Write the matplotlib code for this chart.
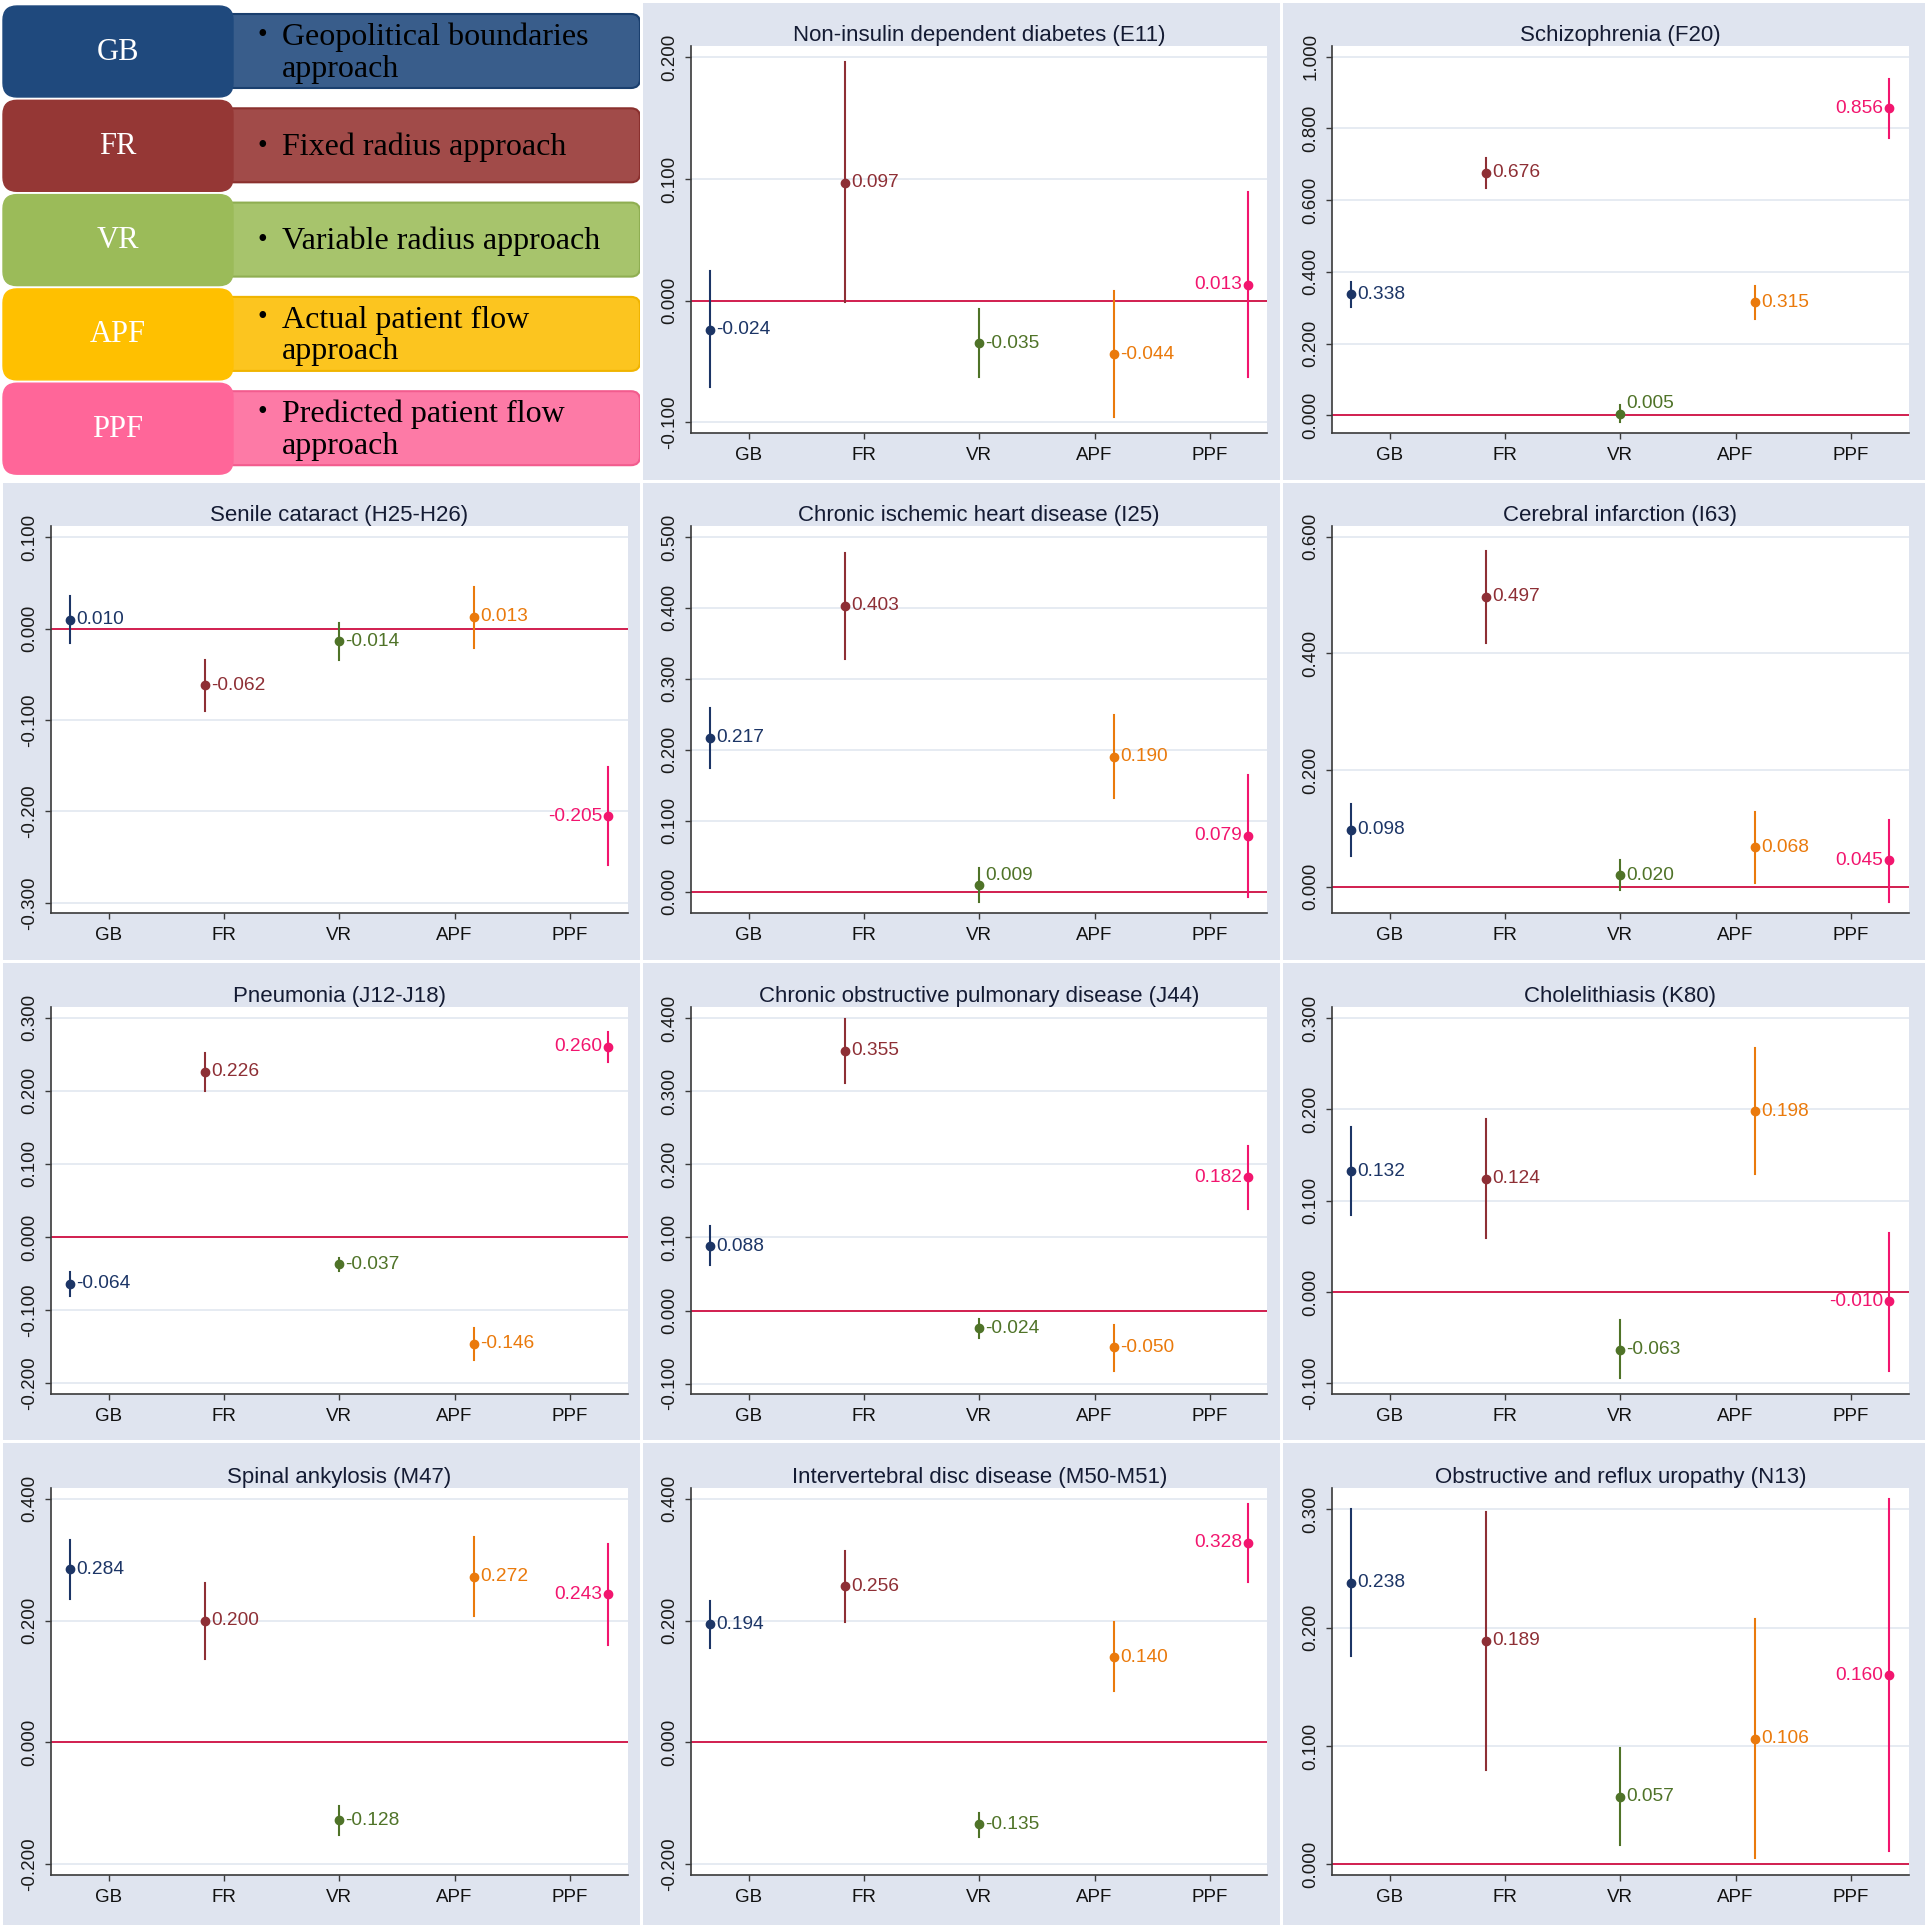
import numpy as np
import matplotlib
matplotlib.use("Agg")
import matplotlib.pyplot as plt
from matplotlib.patches import FancyBboxPatch, Rectangle

# methods and their long names
methods = ["GB", "FR", "VR", "APF", "PPF"]
method_names = ["Geopolitical boundaries\napproach", "Fixed radius approach",
                "Variable radius approach", "Actual patient flow\napproach",
                "Predicted patient flow\napproach"]

titles = ["Non-insulin dependent diabetes (E11)", "Schizophrenia (F20)",
          "Senile cataract (H25-H26)", "Chronic ischemic heart disease (I25)",
          "Cerebral infarction (I63)", "Pneumonia (J12-J18)",
          "Chronic obstructive pulmonary disease (J44)", "Cholelithiasis (K80)",
          "Spinal ankylosis (M47)", "Intervertebral disc disease (M50-M51)",
          "Obstructive and reflux uropathy (N13)"]

# point estimates, one row per disease, columns GB FR VR APF PPF
estimates = [
    [-0.024, 0.097, -0.035, -0.044, 0.013],
    [0.338, 0.676, 0.005, 0.315, 0.856],
    [0.010, -0.062, -0.014, 0.013, -0.205],
    [0.217, 0.403, 0.009, 0.190, 0.079],
    [0.098, 0.497, 0.020, 0.068, 0.045],
    [-0.064, 0.226, -0.037, -0.146, 0.260],
    [0.088, 0.355, -0.024, -0.050, 0.182],
    [0.132, 0.124, -0.063, 0.198, -0.010],
    [0.284, 0.200, -0.128, 0.272, 0.243],
    [0.194, 0.256, -0.135, 0.140, 0.328],
    [0.238, 0.189, 0.057, 0.106, 0.160],
]
ci_low = [
    [-0.071, -0.001, -0.063, -0.096, -0.063],
    [0.303, 0.635, -0.019, 0.269, 0.774],
    [-0.016, -0.090, -0.034, -0.021, -0.259],
    [0.175, 0.328, -0.015, 0.132, -0.007],
    [0.053, 0.418, -0.006, 0.006, -0.027],
    [-0.081, 0.199, -0.047, -0.168, 0.240],
    [0.062, 0.311, -0.038, -0.082, 0.139],
    [0.084, 0.059, -0.094, 0.129, -0.086],
    [0.236, 0.137, -0.152, 0.207, 0.159],
    [0.155, 0.197, -0.156, 0.084, 0.264],
    [0.176, 0.080, 0.016, 0.005, 0.011],
]
ci_high = [
    [0.024, 0.196, -0.007, 0.008, 0.089],
    [0.373, 0.716, 0.028, 0.361, 0.937],
    [0.036, -0.034, 0.006, 0.046, -0.151],
    [0.259, 0.477, 0.034, 0.249, 0.164],
    [0.142, 0.575, 0.045, 0.128, 0.115],
    [-0.048, 0.252, -0.028, -0.125, 0.280],
    [0.115, 0.399, -0.011, -0.020, 0.225],
    [0.181, 0.190, -0.031, 0.267, 0.065],
    [0.333, 0.262, -0.105, 0.338, 0.326],
    [0.232, 0.315, -0.116, 0.197, 0.392],
    [0.300, 0.298, 0.098, 0.207, 0.309],
]

# y axis ticks and ranges per panel
yticks = [
    [-0.1, 0.0, 0.1, 0.2],
    [0.0, 0.2, 0.4, 0.6, 0.8, 1.0],
    [-0.3, -0.2, -0.1, 0.0, 0.1],
    [0.0, 0.1, 0.2, 0.3, 0.4, 0.5],
    [0.0, 0.2, 0.4, 0.6],
    [-0.2, -0.1, 0.0, 0.1, 0.2, 0.3],
    [-0.1, 0.0, 0.1, 0.2, 0.3, 0.4],
    [-0.1, 0.0, 0.1, 0.2, 0.3],
    [-0.2, 0.0, 0.2, 0.4],
    [-0.2, 0.0, 0.2, 0.4],
    [0.0, 0.1, 0.2, 0.3],
]
ylims = [(-0.109, 0.209), (-0.049, 1.028), (-0.311, 0.112), (-0.030, 0.515),
         (-0.045, 0.618), (-0.2145, 0.314), (-0.114, 0.4146), (-0.1116, 0.3117),
         (-0.218, 0.417), (-0.218, 0.417), (-0.009, 0.3177)]

# point colours and legend box colours
colors = ["#1c3566", "#8e2f35", "#4f7328", "#ea7a0c", "#f2156e"]
box_dark = ["#1f497d", "#953735", "#9bbb59", "#ffc000", "#ff6699"]
box_light = ["#395d8b", "#a14b49", "#a7c46c", "#fcc51f", "#fd7aa6"]
box_edge = ["#1a3f6e", "#8a302e", "#8fae52", "#f0b400", "#f25c8e"]

# labels above right for these (panel, method)
label_up = [(1, 2), (3, 2)]

W = 1928.0
fig = plt.figure(figsize=(19.28, 19.28), dpi=100, facecolor="white")

bg = "#dfe4ef"
col_px = [(3, 640), (643, 1280), (1283, 1925)]
row_px = [(3, 480), (483, 960), (963, 1440), (1443, 1925)]
cells = [(0, 1), (0, 2)] + [(r, c) for r in range(1, 4) for c in range(3)]
for (r, c) in cells:
    x0, x1 = col_px[c]
    y0, y1 = row_px[r]
    fig.patches.append(Rectangle((x0 / W, 1 - y1 / W), (x1 - x0) / W, (y1 - y0) / W,
                                 transform=fig.transFigure, facecolor=bg,
                                 edgecolor="none", zorder=-10))

col_left = [0.0265, 0.3584, 0.6909]
row_bottom = [0.7754, 0.5265, 0.2770, 0.0275]
aw, ah = 0.2990, 0.2005

xs = 2 / 3 + np.arange(5) * 7 / 6

for p, (r, c) in enumerate(cells):
    ax = fig.add_axes([col_left[c], row_bottom[r], aw, ah])
    ax.set_facecolor("white")
    ax.set_xlim(0.5, 5.5)
    ax.set_ylim(*ylims[p])
    ax.set_yticks(yticks[p])
    ax.set_yticklabels(["%.3f" % t for t in yticks[p]], rotation=90, va="center",
                       fontsize=13.5, family="Liberation Sans", color="#1a1a1a")
    ax.set_xticks(range(1, 6))
    ax.set_xticklabels(methods, fontsize=13.5, family="Liberation Sans", color="#111111")
    for t in yticks[p]:
        ax.axhline(t, color="#dfe5ef", lw=1.1, zorder=1)
    ax.axhline(0, color="#d21f4f", lw=1.4, zorder=2)
    for s in ["top", "right"]:
        ax.spines[s].set_visible(False)
    for s in ["left", "bottom"]:
        ax.spines[s].set_color("#3a3a3a")
        ax.spines[s].set_linewidth(1.2)
    ax.tick_params(axis="both", length=4, width=1, color="#3a3a3a")
    ax.tick_params(axis="y", pad=5)
    ax.tick_params(axis="x", pad=6)
    ax.set_title(titles[p], fontsize=16, family="Liberation Sans", color="#141b33", pad=4)

    for i in range(5):
        ax.plot([xs[i], xs[i]], [ci_low[p][i], ci_high[p][i]], color=colors[i], lw=1.5, zorder=3)
        ax.plot(xs[i], estimates[p][i], "o", color=colors[i], ms=6, zorder=4)
        txt = "%.3f" % estimates[p][i]
        if i == 4:
            off, ha = (-4.5, 0), "right"
        elif (p, i) in label_up:
            off, ha = (4.5, 7), "left"
        else:
            off, ha = (4.5, 0), "left"
        ax.annotate(txt, (xs[i], estimates[p][i]), xytext=off, textcoords="offset points",
                    ha=ha, va="center", fontsize=13.8, family="Liberation Sans",
                    color=colors[i], zorder=5)

# legend panel in the top left corner
lax = fig.add_axes([0, 1 - 482 / W, 640 / W, 482 / W])
lax.set_xlim(0, 640)
lax.set_ylim(482, 0)
lax.axis("off")
step = 94.3
for i in range(5):
    top = 6 + i * step
    two_lines = "\n" in method_names[i]
    lax.add_patch(FancyBboxPatch((200, top + 8), 440, 74, boxstyle="round,pad=0,rounding_size=9",
                                 facecolor=box_light[i], edgecolor=box_edge[i], lw=1.5, zorder=1))
    lax.add_patch(FancyBboxPatch((3, top), 230, 91, boxstyle="round,pad=0,rounding_size=14",
                                 facecolor=box_dark[i], edgecolor=box_dark[i], lw=1, zorder=2))
    lax.text(118, top + 46, methods[i], ha="center", va="center", fontsize=22,
             family="Liberation Serif", color="white", zorder=3)
    lax.text(262, top + 29 if two_lines else top + 46, "\u2022",
             ha="center", va="center", fontsize=20, family="Liberation Serif", color="black", zorder=3)
    lax.text(282, top + 47, method_names[i], ha="left", va="center", fontsize=23,
             family="Liberation Serif", color="black", linespacing=1.12, zorder=3)

fig.savefig("out.png", dpi=100, facecolor="white")
